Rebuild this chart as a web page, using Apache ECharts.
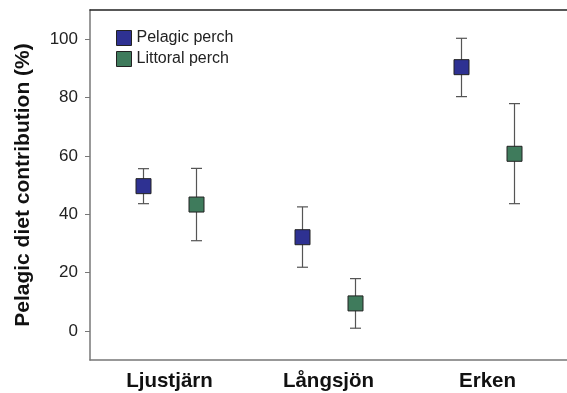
<!DOCTYPE html>
<html><head><meta charset="utf-8">
<script src="https://cdn.jsdelivr.net/npm/echarts@6/dist/echarts.min.js"></script>
<style>html,body{margin:0;padding:0;background:#fff}#c{width:567px;height:393px}</style>
</head><body><div id="c"></div>
<script>
const categories = ['Ljustjärn', 'Långsjön', 'Erken'];
const pelagicMean = [49.6, 32.1, 90.4];
const pelagicLow = [43.6, 21.8, 80.3];
const pelagicHigh = [55.6, 42.5, 100.3];
const littoralMean = [43.3, 9.4, 60.7];
const littoralLow = [30.9, 0.9, 43.6];
const littoralHigh = [55.7, 17.9, 77.9];
const yTicks = [0, 20, 40, 60, 80, 100];

const chart = echarts.init(document.getElementById('c'));
function makeData(mean, low, high) {
  return categories.map((c, i) => [i, mean[i], low[i], high[i]]);
}
function renderer(side, color) {
  return function (params, api) {
    const i = api.value(0);
    const band = api.size([1, 0])[0];
    const dx = side * band * 0.166;
    const pm = api.coord([i, api.value(1)]);
    const pl = api.coord([i, api.value(2)]);
    const ph = api.coord([i, api.value(3)]);
    const x = Math.round(pm[0] + dx) + 0.5;
    const cap = 5.5;
    const ls = { stroke: '#555', lineWidth: 1.2 };
    const s = 15;
    return {
      type: 'group',
      children: [
        { type: 'line', shape: { x1: x, y1: ph[1], x2: x, y2: pl[1] }, style: ls },
        { type: 'line', shape: { x1: x - cap, y1: ph[1], x2: x + cap, y2: ph[1] }, style: ls },
        { type: 'line', shape: { x1: x - cap, y1: pl[1], x2: x + cap, y2: pl[1] }, style: ls },
        { type: 'rect', shape: { x: x - s / 2, y: pm[1] - s / 2, width: s, height: s },
          style: { fill: color, stroke: '#222', lineWidth: 1 } }
      ]
    };
  };
}
const blue = '#2e3192', green = '#3f7b5c';
chart.setOption({
  animation: false,
  grid: { left: 90, top: 10, right: -7, bottom: 33 },
  legend: {
    orient: 'vertical', left: 111, top: 25, itemWidth: 15, itemHeight: 15, itemGap: 5,
    textStyle: { fontFamily: 'Liberation Sans, Arial', fontSize: 16, color: '#222' },
    data: [
      { name: 'Pelagic perch', icon: 'rect', itemStyle: { color: blue, borderColor: '#222', borderWidth: 1 } },
      { name: 'Littoral perch', icon: 'rect', itemStyle: { color: green, borderColor: '#222', borderWidth: 1 } }
    ]
  },
  xAxis: [{
    type: 'category', data: categories, boundaryGap: true,
    axisLine: { onZero: false, lineStyle: { color: '#777', width: 1.5 } },
    axisTick: { show: false },
    axisLabel: { margin: 11, fontFamily: 'Liberation Sans, Arial', fontWeight: 'bold', fontSize: 20.5, color: '#111' }
  }, {
    type: 'category', data: categories, position: 'top',
    axisLine: { onZero: false, lineStyle: { color: '#222', width: 1.5 } },
    axisTick: { show: false }, axisLabel: { show: false }
  }],
  yAxis: {
    type: 'value', min: -10, max: 110,
    name: 'Pelagic diet contribution (%)', nameLocation: 'middle', nameGap: 56,
    nameTextStyle: { fontFamily: 'Liberation Sans, Arial', fontWeight: 'bold', fontSize: 21, color: '#111' },
    axisLine: { show: true, onZero: false, lineStyle: { color: '#777', width: 1.5 } },
    axisTick: { show: true, length: 5, customValues: yTicks, lineStyle: { color: '#777' } },
    axisLabel: { customValues: yTicks, margin: 12, fontFamily: 'Liberation Sans, Arial', fontSize: 17, color: '#222' },
    splitLine: { show: false }
  },
  series: [
    { name: 'Pelagic perch', type: 'custom', renderItem: renderer(-1, blue), itemStyle: { color: blue },
      data: makeData(pelagicMean, pelagicLow, pelagicHigh), encode: { x: 0, y: [1, 2, 3] } },
    { name: 'Littoral perch', type: 'custom', renderItem: renderer(1, green), itemStyle: { color: green },
      data: makeData(littoralMean, littoralLow, littoralHigh), encode: { x: 0, y: [1, 2, 3] } }
  ]
});
</script></body></html>
